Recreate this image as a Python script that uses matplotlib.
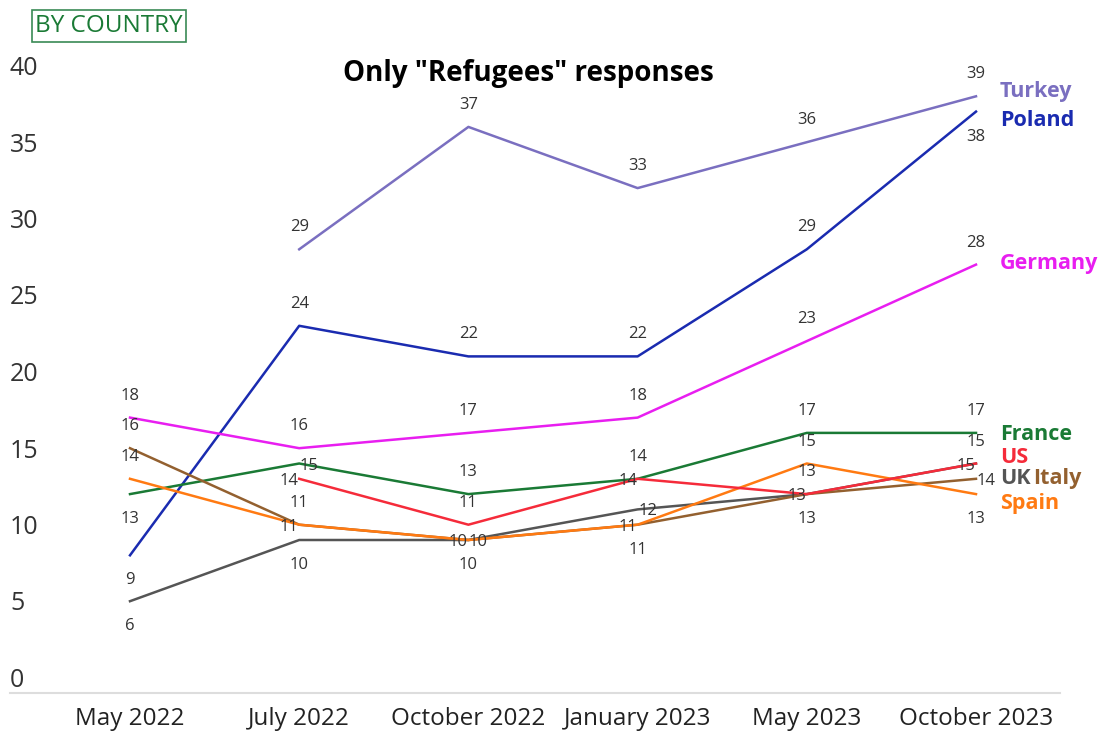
import numpy as np
import matplotlib.pyplot as plt

plt.rcParams['font.family'] = ['Open Sans', 'DejaVu Sans']

# survey waves and share of "Refugees" answers, per country
waves = ["May 2022", "July 2022", "October 2022", "January 2023", "May 2023", "October 2023"]

turkey = [np.nan, 29, 37, 33, 36, 39]
poland = [9, 24, 22, 22, 29, 38]
germany = [18, 16, 17, 18, 23, 28]
france = [13, 15, 13, 14, 17, 17]
us = [np.nan, 14, 11, 14, 13, 15]
uk = [6, 10, 10, 12, 13, 15]
italy = [16, 11, 10, 11, 13, 14]
spain = [14, 11, 10, 11, 15, 13]

# name, values, colour, where each value label goes (a=above, b=below, l=left, r=right)
series = [
    ("Turkey", turkey, "#7a6fc0", [None, "a", "a", "a", "a", "a"]),
    ("Poland", poland, "#1a2bb0", ["b", "a", "a", "a", "a", "b"]),
    ("Germany", germany, "#e81ef0", ["a", "a", "a", "a", "a", "a"]),
    ("France", france, "#1a7a35", ["b", "r", "a", "a", "a", "a"]),
    ("UK", uk, "#555555", ["b", "b", "b", "r", "a", "a"]),
    ("Italy", italy, "#93602f", ["a", "a", "l", "b", "b", "r"]),
    ("Spain", spain, "#ff7a12", ["a", "l", "r", "l", "a", "b"]),
    ("US", us, "#f52b3a", [None, "l", "a", "l", "l", "l"]),
]

# end-of-line name tags: (x offset in px from last point, y in data units)
end_tags = {
    "Turkey": (24, 39.3), "Poland": (24, 37.4), "Germany": (24, 28.1),
    "France": (24, 16.9), "US": (24, 15.4), "UK": (24, 14.0),
    "Italy": (57, 14.0), "Spain": (24, 12.4),
}

PX = 0.72  # points per pixel at dpi 100
offsets = {"a": (0, 22), "b": (0, -25), "l": (-10, -2), "r": (10, -2)}

fig = plt.figure(figsize=(11.01, 7.31), dpi=100)
W, H = 1101, 731
left, right, bottom_px, top_px = 10, 1060, 693, 50.4
ax = fig.add_axes([left / W, (H - bottom_px) / H, (right - left) / W, (bottom_px - top_px) / H])

x = np.arange(len(waves))
for i, (name, vals, col, place) in enumerate(series):
    vals = np.array(vals, dtype=float)
    ax.plot(x, vals, color=col, lw=1.8, zorder=2 + i, solid_joinstyle="round")
    for xi, v, p in zip(x, vals, place):
        if p is None or np.isnan(v):
            continue
        dx, dy = offsets[p]
        ax.annotate(f"{v:g}", (xi, v), xytext=(dx * PX, dy * PX), textcoords="offset points",
                    ha="center", va="center", fontsize=12, color="#333333", zorder=20)
    dx, ty = end_tags[name]
    ax.annotate(name, (x[-1], ty), xytext=(dx * PX, 0), textcoords="offset points",
                ha="left", va="center", fontsize=15.5, fontweight="bold", color=col,
                annotation_clip=False)

ax.set_xlim(-(130 - left) / 169.2, 5 + (right - 976) / 169.2)
ax.set_ylim(0, (bottom_px - top_px) / 15.3)

ax.set_xticks(x)
ax.set_xticklabels(waves, fontsize=17.5, color="#222222")
ax.tick_params(axis="x", length=0, pad=10)
ax.set_yticks([])
for v in range(0, 41, 5):
    ax.text(0, v, str(v), transform=ax.get_yaxis_transform(), ha="left", va="bottom",
            fontsize=18, color="#333333")

for s in ("top", "left", "right"):
    ax.spines[s].set_visible(False)
ax.spines["bottom"].set_color("#dddddd")
ax.spines["bottom"].set_linewidth(1.5)
ax.patch.set_alpha(0)

fig.text(528 / W, 1 - 73 / H, 'Only "Refugees" responses', ha="center", va="center",
         fontsize=20, fontweight="bold", color="black")
fig.text(109 / W, 1 - 26 / H, "BY COUNTRY", ha="center", va="center", fontsize=17.5,
         color="#1a7a35",
         bbox=dict(boxstyle="square,pad=0.15", facecolor="white", edgecolor="#3a8a55", lw=1.2))

fig.savefig("out.png", dpi=100)
